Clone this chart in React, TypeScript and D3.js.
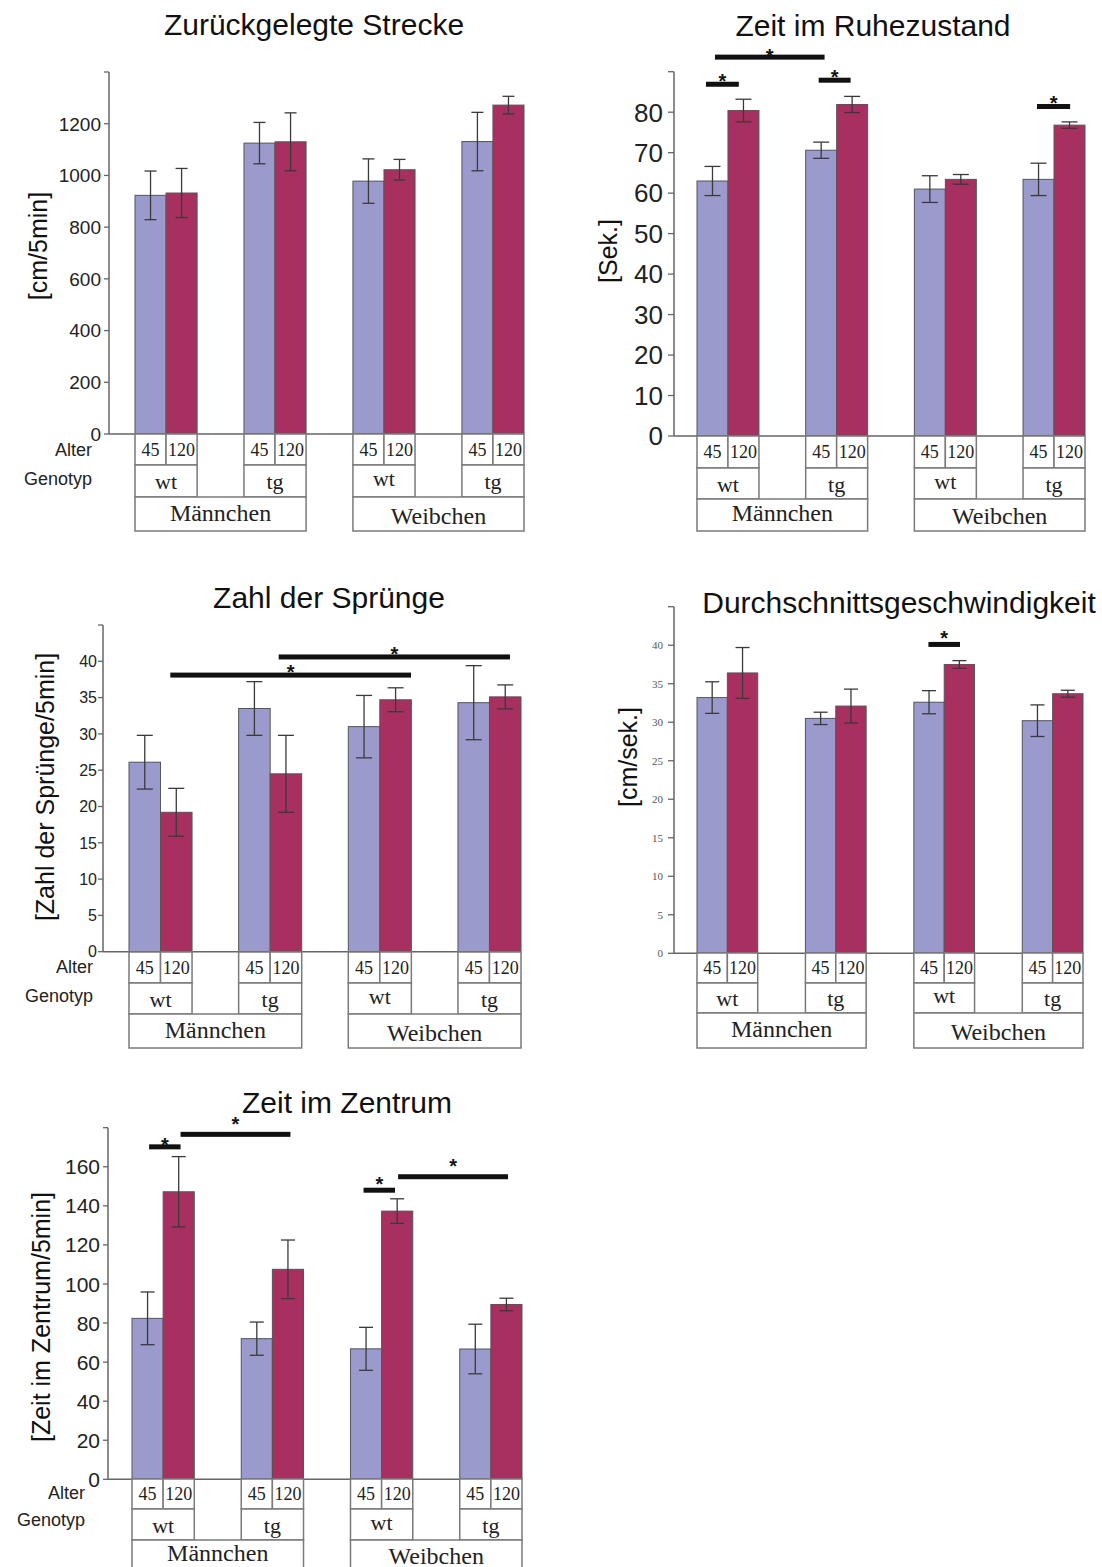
import React from "react";
import * as d3 from "d3";

// ---------- shared categories ----------
const ages = ["45", "120"];
const genotypes = ["wt", "tg", "wt", "tg"];
const sexes = ["Männchen", "Weibchen"];
const groupIds = ["m-wt", "m-tg", "f-wt", "f-tg"];

// ---------- Zurückgelegte Strecke ----------
const streckeMean45 = [923, 1125, 978, 1131];
const streckeMean120 = [932, 1130, 1022, 1272];
const streckeErr45 = [94, 80, 86, 113];
const streckeErr120 = [95, 112, 40, 34];
const streckeSig: number[][] = [];

// ---------- Zeit im Ruhezustand ----------
const ruheMean45 = [63, 70.6, 61, 63.4];
const ruheMean120 = [80.4, 81.9, 63.4, 76.8];
const ruheErr45 = [3.6, 2.0, 3.3, 4.0];
const ruheErr120 = [2.8, 2.0, 1.2, 0.8];
// [from bar pos, to bar pos, bar value, star value]
const ruheSig = [
  [0.29, 1.35, 86.9, 88.7],
  [0.58, 2.61, 93.6, 94.9],
  [2.42, 3.45, 87.9, 89.9],
  [6.45, 7.52, 81.4, 83.5],
];

// ---------- Zahl der Sprünge ----------
const spruengeMean45 = [26.1, 33.5, 31.0, 34.3];
const spruengeMean120 = [19.2, 24.5, 34.7, 35.1];
const spruengeErr45 = [3.7, 3.7, 4.3, 5.1];
const spruengeErr120 = [3.3, 5.3, 1.65, 1.65];
const spruengeSig = [
  [1.31, 5.99, 38.1, 39.2],
  [3.27, 7.65, 40.6, 41.6],
];

// ---------- Durchschnittsgeschwindigkeit ----------
const speedMean45 = [33.2, 30.5, 32.6, 30.2];
const speedMean120 = [36.4, 32.1, 37.5, 33.7];
const speedErr45 = [2.05, 0.8, 1.5, 2.05];
const speedErr120 = [3.3, 2.2, 0.5, 0.45];
const speedSig = [[4.48, 5.52, 40.1, 41.5]];

// ---------- Zeit im Zentrum ----------
const zentrumMean45 = [82.4, 72, 66.8, 66.7];
const zentrumMean120 = [147.2, 107.5, 137.3, 89.5];
const zentrumErr45 = [13.5, 8.5, 11, 12.7];
const zentrumErr120 = [18, 15, 6.3, 3.2];
const zentrumSig = [
  [0.55, 1.56, 170.2, 173.6],
  [1.56, 3.58, 176.6, 184.4],
  [4.42, 5.43, 148, 153.7],
  [5.53, 7.55, 154.9, 162.9],
];

const SANS = "'Liberation Sans', Arial, Helvetica, sans-serif";
const SERIF = "'Liberation Serif', 'Times New Roman', Times, serif";
const BLUE = "#9a9acc";
const RED = "#a83060";

type Cfg = {
  title: string;
  titleX: number;
  titleY: number;
  yLabel: string;
  yLabelX: number;
  yLabelY: number;
  axisX: number;
  x0: number;
  x1: number;
  pad: number;
  yBase: number;
  yTop: number;
  yMax: number;
  tickStep: number;
  tickFont: number;
  tickFamily: string;
  tickColor: string;
  tickGap: number;
  tickLen: number;
  capW: number;
  rows: number[];
  rowLabels: null | { x: number; alterY: number; genoY: number };
  sexDy: number;
};

function Panel(props: {
  cfg: Cfg;
  m45: number[];
  m120: number[];
  e45: number[];
  e120: number[];
  sig: number[][];
}) {
  const { cfg, m45, m120, e45, e120, sig } = props;
  const y = d3.scaleLinear().domain([0, cfg.yMax]).range([cfg.yBase, cfg.yTop]);
  const xg = d3
    .scaleBand<string>()
    .domain(groupIds)
    .range([cfg.x0, cfg.x1])
    .paddingInner(cfg.pad)
    .paddingOuter(0);
  const xa = d3.scaleBand<string>().domain(ages).range([0, xg.bandwidth()]).padding(0);
  const bw = xa.bandwidth();
  const ticks = d3.range(0, cfg.yMax + cfg.tickStep / 2, cfg.tickStep);

  const bars = groupIds.flatMap((g, gi) =>
    ages.map((a, ai) => ({
      key: g + a,
      x: (xg(g) as number) + (xa(a) as number),
      v: ai === 0 ? m45[gi] : m120[gi],
      e: ai === 0 ? e45[gi] : e120[gi],
      fill: ai === 0 ? BLUE : RED,
    }))
  );
  const posX = (p: number) => {
    const i = Math.min(Math.floor(p), bars.length - 1);
    return bars[i].x + (p - i) * bw;
  };
  const r = cfg.rows;

  return (
    <g>
      <text
        x={cfg.titleX}
        y={cfg.titleY}
        textAnchor="middle"
        fontFamily={SANS}
        fontSize={30}
        fill="#111"
      >
        {cfg.title}
      </text>
      <text
        transform={`translate(${cfg.yLabelX},${cfg.yLabelY}) rotate(-90)`}
        textAnchor="middle"
        dominantBaseline="central"
        fontFamily={SANS}
        fontSize={25}
        fill="#111"
      >
        {cfg.yLabel}
      </text>

      {/* bars */}
      {bars.map((b) => (
        <rect
          key={b.key}
          x={b.x}
          y={y(b.v)}
          width={bw}
          height={y(0) - y(b.v)}
          fill={b.fill}
          stroke="#555"
          strokeWidth={1}
        />
      ))}
      {/* error bars */}
      {bars.map((b) => {
        const cx = b.x + bw / 2;
        const t = y(b.v + b.e);
        const bt = y(b.v - b.e);
        return (
          <g key={"e" + b.key} stroke="#3a3a3a" strokeWidth={1.3} fill="none">
            <line x1={cx} x2={cx} y1={t} y2={bt} />
            <line x1={cx - cfg.capW / 2} x2={cx + cfg.capW / 2} y1={t} y2={t} />
            <line x1={cx - cfg.capW / 2} x2={cx + cfg.capW / 2} y1={bt} y2={bt} />
          </g>
        );
      })}

      {/* axis */}
      <line x1={cfg.axisX} x2={cfg.axisX} y1={y(cfg.yMax)} y2={y(0)} stroke="#666" strokeWidth={1.5} />
      <line x1={cfg.axisX} x2={cfg.x1} y1={y(0)} y2={y(0)} stroke="#666" strokeWidth={1.5} />
      {ticks.map((t) => (
        <g key={"t" + t}>
          <line
            x1={cfg.axisX - cfg.tickLen}
            x2={cfg.axisX}
            y1={y(t)}
            y2={y(t)}
            stroke="#666"
            strokeWidth={1.3}
          />
          {t < cfg.yMax - 1e-9 && (
            <text
              x={cfg.axisX - cfg.tickGap}
              y={y(t)}
              dy="0.36em"
              textAnchor="end"
              fontFamily={cfg.tickFamily}
              fontSize={cfg.tickFont}
              fill={cfg.tickColor}
            >
              {t}
            </text>
          )}
        </g>
      ))}

      {/* category table */}
      <g stroke="#7a7a7a" strokeWidth={1.5} fill="#fff">
        {bars.map((b) => (
          <rect key={"ac" + b.key} x={b.x} y={r[0]} width={bw} height={r[1] - r[0]} />
        ))}
        {groupIds.map((g) => (
          <rect key={"gc" + g} x={xg(g)} y={r[1]} width={xg.bandwidth()} height={r[2] - r[1]} />
        ))}
        {sexes.map((s, si) => {
          const a = xg(groupIds[si * 2]) as number;
          const b = (xg(groupIds[si * 2 + 1]) as number) + xg.bandwidth();
          return <rect key={"sc" + s} x={a} y={r[2]} width={b - a} height={r[3] - r[2]} />;
        })}
      </g>
      <g fontFamily={SERIF} fill="#222" textAnchor="middle">
        {bars.map((b, i) => (
          <text key={"at" + b.key} x={b.x + bw / 2} y={(r[0] + r[1]) / 2 + 6} fontSize={18}>
            {ages[i % 2]}
          </text>
        ))}
        {groupIds.map((g, gi) => (
          <text
            key={"gt" + g}
            x={(xg(g) as number) + xg.bandwidth() / 2}
            y={(r[1] + r[2]) / 2 + 8 - (gi === 2 ? 3 : 0)}
            fontSize={22}
          >
            {genotypes[gi]}
          </text>
        ))}
        {sexes.map((s, si) => {
          const a = xg(groupIds[si * 2]) as number;
          const b = (xg(groupIds[si * 2 + 1]) as number) + xg.bandwidth();
          return (
            <text key={"st" + s} x={(a + b) / 2} y={r[2] + cfg.sexDy + si * 3} fontSize={24}>
              {s}
            </text>
          );
        })}
      </g>
      {cfg.rowLabels && (
        <g fontFamily={SANS} fontSize={18} fill="#222" textAnchor="end">
          <text x={cfg.rowLabels.x} y={cfg.rowLabels.alterY}>
            Alter
          </text>
          <text x={cfg.rowLabels.x} y={cfg.rowLabels.genoY}>
            Genotyp
          </text>
        </g>
      )}

      {/* significance brackets */}
      {sig.map((s, i) => {
        const xa0 = posX(s[0]);
        const xa1 = posX(s[1]);
        return (
          <g key={"sig" + i}>
            <rect x={xa0} y={y(s[2]) - 2.5} width={xa1 - xa0} height={5} fill="#111" />
            <text
              x={(xa0 + xa1) / 2}
              y={y(s[3]) + 11.5}
              textAnchor="middle"
              fontFamily={SANS}
              fontSize={20}
              fontWeight="bold"
              fill="#111"
            >
              *
            </text>
          </g>
        );
      })}
    </g>
  );
}

const cfgStrecke: Cfg = {
  title: "Zurückgelegte Strecke",
  titleX: 314,
  titleY: 35,
  yLabel: "[cm/5min]",
  yLabelX: 38,
  yLabelY: 246,
  axisX: 109,
  x0: 135,
  x1: 524,
  pad: 0.43,
  yBase: 434,
  yTop: 72,
  yMax: 1400,
  tickStep: 200,
  tickFont: 19,
  tickFamily: SANS,
  tickColor: "#222",
  tickGap: 8,
  tickLen: 5,
  capW: 12,
  rows: [434, 465, 497, 531],
  rowLabels: { x: 92, alterY: 456, genoY: 485 },
  sexDy: 24,
};

const cfgRuhe: Cfg = {
  title: "Zeit im Ruhezustand",
  titleX: 873,
  titleY: 36,
  yLabel: "[Sek.]",
  yLabelX: 608,
  yLabelY: 251,
  axisX: 674,
  x0: 697,
  x1: 1085,
  pad: 0.43,
  yBase: 436,
  yTop: 71.7,
  yMax: 90,
  tickStep: 10,
  tickFont: 26,
  tickFamily: SANS,
  tickColor: "#222",
  tickGap: 11,
  tickLen: 6,
  capW: 16,
  rows: [436, 468, 499, 531],
  rowLabels: null,
  sexDy: 22,
};

const cfgSpruenge: Cfg = {
  title: "Zahl der Sprünge",
  titleX: 329,
  titleY: 608,
  yLabel: "[Zahl der Sprünge/5min]",
  yLabelX: 45,
  yLabelY: 787,
  axisX: 103,
  x0: 129,
  x1: 521,
  pad: 0.425,
  yBase: 951.7,
  yTop: 625,
  yMax: 45,
  tickStep: 5,
  tickFont: 16,
  tickFamily: SANS,
  tickColor: "#222",
  tickGap: 6,
  tickLen: 5,
  capW: 16,
  rows: [952, 983, 1014, 1048],
  rowLabels: { x: 93, alterY: 973, genoY: 1002 },
  sexDy: 24,
};

const cfgSpeed: Cfg = {
  title: "Durchschnittsgeschwindigkeit",
  titleX: 899,
  titleY: 613,
  yLabel: "[cm/sek.]",
  yLabelX: 628,
  yLabelY: 757,
  axisX: 674,
  x0: 697,
  x1: 1083,
  pad: 0.44,
  yBase: 953.3,
  yTop: 606.7,
  yMax: 45,
  tickStep: 5,
  tickFont: 11,
  tickFamily: SERIF,
  tickColor: "#555",
  tickGap: 11,
  tickLen: 6,
  capW: 14,
  rows: [953, 983, 1013, 1048],
  rowLabels: null,
  sexDy: 24,
};

const cfgZentrum: Cfg = {
  title: "Zeit im Zentrum",
  titleX: 347,
  titleY: 1113,
  yLabel: "[Zeit im Zentrum/5min]",
  yLabelX: 41,
  yLabelY: 1317,
  axisX: 108,
  x0: 132,
  x1: 522,
  pad: 0.43,
  yBase: 1479.3,
  yTop: 1127.7,
  yMax: 180,
  tickStep: 20,
  tickFont: 21,
  tickFamily: SANS,
  tickColor: "#222",
  tickGap: 8,
  tickLen: 5,
  capW: 14,
  rows: [1479, 1509, 1540, 1590],
  rowLabels: { x: 85, alterY: 1499, genoY: 1526 },
  sexDy: 21,
};

export default function App() {
  return (
    <svg
      width={1102}
      height={1567}
      viewBox="0 0 1102 1567"
      style={{ position: "absolute", left: 0, top: 0, background: "#fff" }}
    >
      <rect x={0} y={0} width={1102} height={1567} fill="#fff" />
      <Panel cfg={cfgStrecke} m45={streckeMean45} m120={streckeMean120} e45={streckeErr45} e120={streckeErr120} sig={streckeSig} />
      <Panel cfg={cfgRuhe} m45={ruheMean45} m120={ruheMean120} e45={ruheErr45} e120={ruheErr120} sig={ruheSig} />
      <Panel cfg={cfgSpruenge} m45={spruengeMean45} m120={spruengeMean120} e45={spruengeErr45} e120={spruengeErr120} sig={spruengeSig} />
      <Panel cfg={cfgSpeed} m45={speedMean45} m120={speedMean120} e45={speedErr45} e120={speedErr120} sig={speedSig} />
      <Panel cfg={cfgZentrum} m45={zentrumMean45} m120={zentrumMean120} e45={zentrumErr45} e120={zentrumErr120} sig={zentrumSig} />
    </svg>
  );
}
